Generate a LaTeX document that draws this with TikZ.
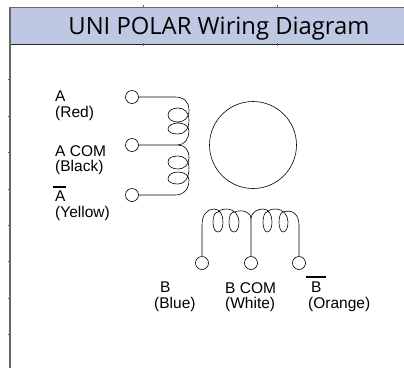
\documentclass[tikz,border=0pt]{standalone}
\usepackage{fontspec}
\setmainfont{Liberation Sans}
\newfontfamily\titlefont{Open Sans}
\usetikzlibrary{positioning}
\definecolor{headblue}{HTML}{BEC8E2}

\begin{document}
\begin{tikzpicture}[
        x=1pt, y=-1pt,
        pin/.style={draw, circle, inner sep=0pt, minimum size=13pt, line width=0.6pt},
        lbl/.style={align=left, anchor=north west, inner sep=0pt, font=\fontsize{15.5pt}{15.5pt}\selectfont},
        wire/.style={draw, line width=0.6pt},
        bar/.style={draw, line width=1.1pt}
    ]
    \useasboundingbox (0,0) rectangle (404,368);

    % Kopfzeile
    \node (header) [fill=headblue, inner sep=0pt, minimum width=394pt, minimum height=37pt, anchor=north west] at (10,7) {};
    \draw[line width=0.6pt, black!60] (header.north west) -- (header.north east);
    \draw[line width=1.1pt, black!85] (header.south west) -- (header.south east);
    \draw[line width=1.2pt, black!60] (header.north west) -- (10,368);
    \foreach \x in {143,277} \draw[line width=0.4pt, black!60] (\x,5) -- (\x,7) (\x,43) -- (\x,46);
    \foreach \y in {79,116,152,189,225,261,298,334} \draw[line width=0.4pt, black!60] (8,\y) -- (10,\y);
    \node (title) at (219,29) {\titlefont\fontsize{23.8pt}{26pt}\selectfont UNI POLAR Wiring Diagram};

    % Rotor
    \node (rotor) [draw, circle, minimum size=87pt, inner sep=0pt, line width=0.6pt] at (253,145) {};

    % Spule A
    \node (pa) [pin] at (132,97) {};
    \node (pacom) [pin] at (132,145) {};
    \node (pabar) [pin] at (132,195) {};
    \coordinate (ja) at (178,145);
    \draw[wire] (pa) -- (175,97) .. controls (184,97) and (189,102) .. (189,110)
        .. controls (189,118) and (184,122) .. (178,122) .. controls (172,122) and (168,119) .. (168,115)
        .. controls (168,111) and (172,108) .. (178,108) .. controls (184,108) and (189,112) .. (189,120)
        .. controls (189,130) and (184,134) .. (178,134) .. controls (172,134) and (168,132) .. (168,129)
        .. controls (168,126) and (172,123) .. (178,123) .. controls (184,123) and (189,126) .. (189,131)
        .. controls (189,138) and (185,145) .. (ja);
    \draw[wire] (pacom) -- (ja) .. controls (185,145) and (189,150) .. (189,158)
        .. controls (189,165) and (184,169) .. (178,169) .. controls (172,169) and (168,166) .. (168,162)
        .. controls (168,158) and (172,156) .. (178,156) .. controls (184,156) and (189,160) .. (189,168)
        .. controls (189,179) and (184,184) .. (178,184) .. controls (172,184) and (168,182) .. (168,179)
        .. controls (168,175) and (172,172) .. (178,172) .. controls (184,172) and (189,175) .. (189,180)
        .. controls (189,189) and (184,195) .. (175,195) -- (pabar);

    % Spule B
    \node (pb) [pin] at (202,263) {};
    \node (pbcom) [pin] at (251,263) {};
    \node (pbbar) [pin] at (299,263) {};
    \coordinate (jb) at (251,219);
    \draw[wire] (pb) -- (202,225) .. controls (202,215) and (207,209) .. (214,209)
        .. controls (220,209) and (223,215) .. (223,222) .. controls (223,228) and (221,232) .. (218,232)
        .. controls (215,232) and (213,228) .. (213,222) .. controls (213,216) and (215,212) .. (218,212)
        .. controls (221,209) and (224,209) .. (227,209) .. controls (234,209) and (239,215) .. (239,222)
        .. controls (239,228) and (237,232) .. (234,232) .. controls (231,232) and (229,228) .. (229,222)
        .. controls (229,216) and (231,212) .. (234,212) .. controls (243,209) and (251,212) .. (jb);
    \draw[wire] (pbcom) -- (jb) .. controls (251,212) and (258,209) .. (263,209)
        .. controls (269,209) and (272,215) .. (272,222) .. controls (272,228) and (270,232) .. (267,232)
        .. controls (265,232) and (263,228) .. (263,222) .. controls (263,216) and (265,212) .. (267,212)
        .. controls (270,209) and (273,209) .. (276,209) .. controls (283,209) and (288,215) .. (288,222)
        .. controls (288,228) and (286,232) .. (283,232) .. controls (281,232) and (279,228) .. (279,222)
        .. controls (279,216) and (281,212) .. (283,212) .. controls (292,209) and (299,214) .. (299,225) -- (pbbar);

    % Beschriftung
    \node (la) [lbl] at (55,91) {A\\(Red)};
    \node (lacom) [lbl] at (55,145) {A COM\\(Black)};
    \node (labar) [lbl] at (55,191) {A\\(Yellow)};
    \node (lb) [lbl] at (154,282) {\hspace*{6pt}B\\(Blue)};
    \node (lbcom) [lbl] at (225,282) {B COM\\(White)};
    \node (lbbar) [lbl] at (308,282) {\hspace*{3pt}B\\(Orange)};
    \draw[bar] (53,187) -- (66,187);
    \draw[bar] (306,277) -- (326,277);
\end{tikzpicture}
\end{document}
